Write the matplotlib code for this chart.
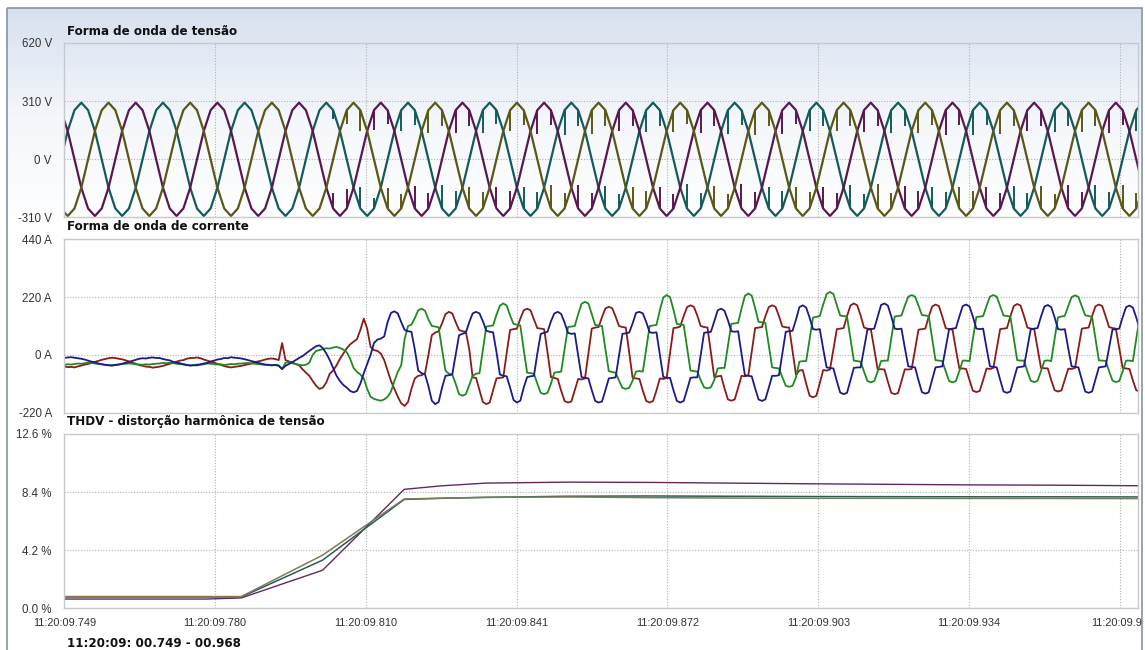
import numpy as np
import matplotlib.pyplot as plt
from matplotlib.colors import LinearSegmentedColormap
from matplotlib.patches import Rectangle

# ---------------- data ----------------
# time axis in ms after 11:20:09
time_ticks = [749.0, 779.83, 810.67, 841.5, 872.33, 903.17, 934.0, 964.83]
time_labels = ['11:20:09.749', '11:20:09.780', '11:20:09.810', '11:20:09.841',
               '11:20:09.872', '11:20:09.903', '11:20:09.934', '11:20:09.9']

volt_ticks = [620, 310, 0, -310]
volt_labels = ['620 V', '310 V', '0 V', '-310 V']
curr_ticks = [440, 220, 0, -220]
curr_labels = ['440 A', '220 A', '0 A', '-220 A']
thd_ticks = [12.6, 8.4, 4.2, 0.0]
thd_labels = ['12.6 %', '8.4 %', '4.2 %', '0.0 %']

# voltage samples (V), first sample at 748.3 ms, 12 samples per cycle
volt_t0 = 748.3
volt_step = 16.7 / 12
volt_teal = [
    0, 151, 262, 302, 262, 151, 0, -151, -262, -302, -262, -151,
    0, 151, 262, 302, 262, 151, 0, -151, -262, -302, -262, -151,
    0, 151, 262, 302, 262, 151, 0, -151, -262, -302, -262, -151,
    0, 151, 262, 302, 262, 151, 0, -151, -262, -302, -262, -151,
    0, 151, 262, 302, 262, 151, 0, -151, -262, -302, -262, -151,
    0, 151, 262, 302, 262, 151, 0, -151, -262, -302, -262, -151,
    0, 151, 262, 302, 262, 151, 0, -151, -262, -302, -262, -151,
    0, 151, 262, 302, 262, 151, 0, -151, -262, -302, -262, -151,
    0, 151, 262, 302, 262, 151, 0, -151, -262, -302, -262, -151,
    0, 151, 262, 302, 262, 151, 0, -151, -262, -302, -262, -151,
    0, 151, 262, 302, 262, 151, 0, -151, -262, -302, -262, -151,
    0, 151, 262, 302, 262, 151, 0, -151, -262, -302, -262, -151,
    0, 151, 262, 302, 262, 151, 0, -151, -262, -302, -262, -151,
    0, 151, 262, 302,
]
volt_purple = [
    262, 151, 0, -151, -262, -302, -262, -151, 0, 151, 262, 302,
    262, 151, 0, -151, -262, -302, -262, -151, 0, 151, 262, 302,
    262, 151, 0, -151, -262, -302, -262, -151, 0, 151, 262, 302,
    262, 151, 0, -151, -262, -302, -262, -151, 0, 151, 262, 302,
    262, 151, 0, -151, -262, -302, -262, -151, 0, 151, 262, 302,
    262, 151, 0, -151, -262, -302, -262, -151, 0, 151, 262, 302,
    262, 151, 0, -151, -262, -302, -262, -151, 0, 151, 262, 302,
    262, 151, 0, -151, -262, -302, -262, -151, 0, 151, 262, 302,
    262, 151, 0, -151, -262, -302, -262, -151, 0, 151, 262, 302,
    262, 151, 0, -151, -262, -302, -262, -151, 0, 151, 262, 302,
    262, 151, 0, -151, -262, -302, -262, -151, 0, 151, 262, 302,
    262, 151, 0, -151, -262, -302, -262, -151, 0, 151, 262, 302,
    262, 151, 0, -151, -262, -302, -262, -151, 0, 151, 262, 302,
    262, 151, 0, -151,
]
volt_olive = [
    -262, -302, -262, -151, 0, 151, 262, 302, 262, 151, 0, -151,
    -262, -302, -262, -151, 0, 151, 262, 302, 262, 151, 0, -151,
    -262, -302, -262, -151, 0, 151, 262, 302, 262, 151, 0, -151,
    -262, -302, -262, -151, 0, 151, 262, 302, 262, 151, 0, -151,
    -262, -302, -262, -151, 0, 151, 262, 302, 262, 151, 0, -151,
    -262, -302, -262, -151, 0, 151, 262, 302, 262, 151, 0, -151,
    -262, -302, -262, -151, 0, 151, 262, 302, 262, 151, 0, -151,
    -262, -302, -262, -151, 0, 151, 262, 302, 262, 151, 0, -151,
    -262, -302, -262, -151, 0, 151, 262, 302, 262, 151, 0, -151,
    -262, -302, -262, -151, 0, 151, 262, 302, 262, 151, 0, -151,
    -262, -302, -262, -151, 0, 151, 262, 302, 262, 151, 0, -151,
    -262, -302, -262, -151, 0, 151, 262, 302, 262, 151, 0, -151,
    -262, -302, -262, -151, 0, 151, 262, 302, 262, 151, 0, -151,
    -262, -302, -262, -151,
]

# commutation notches: (time ms, from V, to V)
notch_teal = [
    (803.97, 262, 215), (809.53, -262, -150), (812.32, -262, -205),
    (817.88, 262, 150), (820.67, 262, 185), (826.23, -262, -135), (829.02, -262, -170),
    (834.58, 262, 140), (837.37, 262, 190), (842.93, -262, -150), (845.72, -262, -175),
    (851.28, 262, 130), (854.07, 262, 180), (859.63, -262, -140), (862.42, -262, -185),
    (867.98, 262, 145), (870.77, 262, 175), (876.33, -262, -130), (879.12, -262, -180),
    (884.68, 262, 135), (887.47, 262, 185), (893.03, -262, -145), (895.82, -262, -170),
    (901.38, 262, 150), (904.17, 262, 180), (909.73, -262, -135), (912.52, -262, -185),
    (918.08, 262, 140), (920.87, 262, 175), (926.43, -262, -150), (929.22, -262, -175),
    (934.78, 262, 130), (937.57, 262, 185), (943.13, -262, -140), (945.92, -262, -180),
    (951.48, 262, 145), (954.27, 262, 180), (959.83, -262, -135), (962.62, -262, -175),
    (968.18, 262, 150),
]
notch_purple = [
    (803.96, -262, -180), (806.75, -262, -160),
    (812.31, 262, 155), (815.10, 262, 190), (820.66, -262, -140), (823.45, -262, -180),
    (829.01, 262, 140), (831.80, 262, 180), (837.36, -262, -150), (840.15, -262, -170),
    (845.71, 262, 135), (848.50, 262, 185), (854.06, -262, -135), (856.85, -262, -180),
    (862.41, 262, 150), (865.20, 262, 175), (870.76, -262, -145), (873.55, -262, -185),
    (879.11, 262, 140), (881.90, 262, 180), (887.46, -262, -130), (890.25, -262, -175),
    (895.81, 262, 135), (898.60, 262, 190), (904.16, -262, -150), (906.95, -262, -180),
    (912.51, 262, 145), (915.30, 262, 175), (920.86, -262, -140), (923.65, -262, -170),
    (929.21, 262, 130), (932.00, 262, 185), (937.56, -262, -145), (940.35, -262, -180),
    (945.91, 262, 150), (948.70, 262, 180), (954.26, -262, -135), (957.05, -262, -175),
    (962.61, 262, 140), (965.40, 262, 185),
]
notch_olive = [
    (806.75, 262, 190), (809.54, 262, 150), (815.10, -262, -155), (817.89, -262, -185),
    (823.45, 262, 140), (826.24, 262, 180), (831.80, -262, -145), (834.59, -262, -175),
    (840.15, 262, 150), (842.94, 262, 185), (848.50, -262, -135), (851.29, -262, -180),
    (856.85, 262, 135), (859.64, 262, 175), (865.20, -262, -150), (867.99, -262, -170),
    (873.55, 262, 145), (876.34, 262, 190), (881.90, -262, -140), (884.69, -262, -185),
    (890.25, 262, 130), (893.04, 262, 180), (898.60, -262, -145), (901.39, -262, -175),
    (906.95, 262, 150), (909.74, 262, 175), (915.30, -262, -130), (918.09, -262, -180),
    (923.65, 262, 140), (926.44, 262, 185), (932.00, -262, -150), (934.79, -262, -170),
    (940.35, 262, 135), (943.14, 262, 180), (948.70, -262, -140), (951.49, -262, -185),
    (957.05, 262, 145), (959.84, 262, 175), (965.40, -262, -135), (968.19, -262, -180),
]

# current samples (A), first sample at 749.0 ms, 24 samples per cycle
curr_t0 = 749.0
curr_step = 16.7 / 24
curr_red = [
    -44, -47, -46, -48, -44, -41, -37, -35, -30, -27, -23, -19, -16, -13, -11, -12, -15, -17, -21, -25, -30, -34, -39, -42,
    -45, -46, -49, -47, -45, -42, -38, -34, -31, -26, -22, -20, -15, -12, -12, -10, -13, -18, -22, -26, -29, -35, -38, -43,
    -46, -48, -46, -44, -42, -39, -36, -33, -28, -25, -22, -18, -15, -14, -16, -20, 45, -20, -25, -30, -35, -40, -55, -68,
    -80, -100, -118, -130, -125, -105, -72, -60, -40, -15, 5, 25, 40, 50, 60, 95, 138, 100, 30, 18, 15, 5, -20, -60,
    -100, -130, -160, -185, -195, -180, -130, -90, -80, -78, -70, 0, 75, 85, 90, 120, 155, 164, 158, 125, 95, 90, 88, 20,
    -86, -88, -135, -180, -188, -182, -135, -90, -88, -86, 8, 95, 98, 100, 138, 170, 176, 170, 135, 102, 100, 98, 8, -85,
    -88, -92, -137, -176, -182, -178, -135, -92, -94, -90, 6, 100, 104, 106, 144, 177, 183, 178, 146, 110, 106, 104, 8, -88,
    -90, -92, -137, -176, -182, -176, -136, -90, -92, -88, 8, 102, 104, 108, 148, 182, 189, 183, 150, 110, 106, 104, 8, -86,
    -82, -80, -128, -170, -175, -170, -126, -80, -82, -78, 12, 102, 104, 106, 147, 182, 189, 183, 148, 108, 105, 104, 14, -76,
    -60, -58, -110, -156, -162, -156, -108, -58, -60, -56, 21, 98, 100, 102, 148, 188, 196, 189, 150, 104, 100, 98, 22, -55,
    -55, -56, -102, -145, -150, -146, -100, -55, -56, -54, 22, 96, 98, 100, 145, 184, 192, 186, 146, 102, 98, 96, 20, -52,
    -52, -54, -97, -137, -142, -138, -96, -52, -54, -50, 24, 98, 100, 102, 147, 186, 194, 188, 148, 104, 100, 98, 24, -50,
    -51, -52, -96, -135, -140, -136, -95, -53, -54, -50, 25, 100, 102, 104, 147, 185, 192, 186, 147, 106, 102, 100, 25, -50,
    -52, -54, -98, -135, -140,
]
curr_blue = [
    -12, -10, -9, -11, -13, -15, -18, -22, -26, -29, -33, -36, -38, -40, -41, -39, -37, -34, -30, -27, -23, -19, -15, -13,
    -14, -11, -10, -12, -12, -16, -19, -21, -27, -30, -32, -37, -39, -41, -40, -40, -36, -33, -31, -26, -22, -18, -16, -12,
    -13, -9, -11, -12, -14, -17, -20, -24, -27, -31, -34, -37, -38, -40, -39, -42, -54, -42, -35, -28, -20, -12, -5, 5,
    15, 24, 33, 36, 25, 5, -20, -50, -80, -100, -115, -125, -138, -143, -138, -110, -70, -35, 0, 45, 58, 62, 70, 125,
    160, 166, 158, 125, 95, 90, 88, 20, -60, -70, -75, -120, -175, -188, -180, -125, -80, -78, -75, 0, 75, 80, 85, 125,
    158, 164, 158, 128, 92, 88, 86, 10, -75, -80, -82, -125, -172, -182, -175, -125, -85, -82, -80, 5, 80, 84, 88, 128,
    158, 164, 156, 123, 84, 80, 82, -3, -85, -88, -90, -135, -176, -182, -178, -135, -90, -88, -86, -2, 80, 82, 85, 120,
    160, 164, 158, 125, 86, 84, 86, 0, -84, -88, -88, -135, -176, -182, -176, -133, -88, -86, -86, 0, 84, 86, 88, 128,
    170, 176, 168, 132, 90, 88, 90, 4, -78, -80, -82, -128, -170, -176, -170, -126, -80, -80, -78, 6, 88, 90, 92, 134,
    182, 189, 180, 142, 98, 96, 98, 23, -48, -50, -52, -100, -144, -150, -145, -98, -50, -48, -48, 24, 96, 98, 100, 145,
    190, 196, 188, 147, 100, 98, 100, 26, -44, -46, -48, -97, -142, -148, -143, -96, -48, -46, -44, 26, 98, 100, 102, 146,
    186, 192, 184, 145, 100, 98, 100, 26, -44, -46, -48, -95, -140, -145, -140, -94, -48, -46, -44, 26, 98, 100, 102, 146,
    184, 190, 182, 143, 98, 96, 98, 25, -44, -46, -48, -95, -140, -145, -140, -94, -48, -46, -44, 25, 96, 98, 100, 144,
    182, 188, 180, 142, 98,
]
curr_green = [
    -38, -36, -37, -35, -33, -34, -32, -30, -31, -33, -35, -36, -38, -39, -40, -38, -37, -35, -34, -33, -34, -36, -37, -38,
    -36, -37, -35, -34, -33, -31, -32, -30, -32, -34, -36, -35, -38, -40, -39, -37, -38, -36, -33, -34, -35, -37, -36, -39,
    -37, -35, -36, -34, -33, -32, -31, -33, -34, -35, -37, -38, -39, -40, -38, -40, -55, -30, -28, -32, -35, -38, -40, -38,
    -30, 0, 15, 18, 22, 25, 24, 28, 30, 26, 20, 10, -15, -50, -65, -75, -90, -130, -160, -168, -172, -175, -170, -160,
    -140, -100, -65, -40, 60, 110, 115, 140, 170, 176, 168, 135, 110, 108, 105, 20, -60, -72, -75, -110, -150, -156, -150, -115,
    -80, -72, -70, 20, 108, 110, 112, 153, 188, 196, 188, 150, 118, 115, 112, 20, -68, -70, -72, -110, -145, -150, -145, -110,
    -68, -66, -64, 21, 106, 108, 110, 155, 195, 202, 196, 155, 114, 112, 110, 22, -62, -66, -68, -98, -126, -130, -126, -98,
    -64, -62, -64, 24, 110, 112, 114, 170, 219, 228, 220, 172, 118, 116, 114, 26, -60, -62, -64, -96, -124, -128, -124, -96,
    -52, -50, -50, 35, 118, 120, 122, 177, 225, 234, 226, 178, 126, 124, 122, 38, -48, -50, -52, -86, -118, -122, -118, -86,
    -26, -24, -24, 60, 142, 145, 148, 192, 232, 240, 232, 190, 150, 148, 146, 62, -22, -24, -26, -64, -100, -105, -100, -64,
    -24, -22, -22, 63, 146, 148, 150, 188, 222, 228, 222, 188, 152, 150, 148, 64, -20, -22, -24, -63, -100, -105, -100, -62,
    -22, -22, -24, 62, 144, 146, 148, 187, 222, 228, 222, 186, 150, 148, 146, 62, -20, -22, -22, -63, -99, -104, -99, -62,
    -23, -21, -24, 61, 143, 146, 149, 186, 220, 227, 221, 185, 151, 148, 145, 61, -21, -22, -23, -62, -98, -104, -100, -63,
    -22, -22, -24, 62, 144,
]

# THDV (%), one value per cycle
thd_time = [749.0, 768.5, 778.0, 785.2, 801.8, 818.5, 826.0, 835.2, 851.8, 868.5, 885.2, 901.8, 918.5, 935.2, 951.8, 968.6]
thd_purple = [0.67, 0.67, 0.67, 0.75, 2.75, 8.60, 8.85, 9.05, 9.12, 9.10, 9.05, 9.00, 8.96, 8.92, 8.90, 8.86]
thd_teal = [0.82, 0.82, 0.82, 0.82, 3.48, 7.87, 7.95, 8.02, 8.10, 8.12, 8.10, 8.08, 8.07, 8.06, 8.06, 8.05]
thd_olive = [0.85, 0.85, 0.85, 0.85, 3.84, 7.90, 7.96, 8.02, 8.05, 8.00, 7.97, 7.95, 7.95, 7.94, 7.94, 7.93]

# ---------------- drawing ----------------
W, H = 1145, 650
TEAL, PURPLE, OLIVE = '#155a5a', '#58184f', '#5b5717'
RED, BLUE, GREEN = '#8b1a1a', '#1a1a8a', '#1f8a1f'
TICK_FONT = dict(family='Liberation Sans', color='#333333')
TITLE_FONT = dict(family='DejaVu Sans', weight='bold', color='#111111', size=8.6)


def box(x0, y0, x1, y1):
    # pixel box (top-left origin) -> figure fraction
    return [x0 / W, 1 - y1 / H, (x1 - x0) / W, (y1 - y0) / H]


fig = plt.figure(figsize=(W / 100, H / 100), dpi=100)

bg = fig.add_axes([0, 0, 1, 1], zorder=-10)
bg.set_xlim(0, W)
bg.set_ylim(H, 0)
bg.axis('off')
grad_cmap = LinearSegmentedColormap.from_list('panel', ['#d7e0ef', '#f4f7fb', '#ffffff'])
bg.imshow(np.linspace(0, 1, 256).reshape(-1, 1), extent=[7, 1141, 228, 8],
          aspect='auto', cmap=grad_cmap, interpolation='bilinear')
bg.add_patch(Rectangle((7, 7.5), 1134.5, 700, fill=False, ec='#8593a3', lw=1.2))

ax_v = fig.add_axes(box(64.3, 43, 1138.3, 217.5))
ax_i = fig.add_axes(box(64.3, 239.5, 1138.3, 412.5))
ax_h = fig.add_axes(box(64.3, 434, 1138.3, 608.3))

setup = [
    (ax_v, (-310, 620), volt_ticks, volt_labels),
    (ax_i, (-220, 440), curr_ticks, curr_labels),
    (ax_h, (0, 12.6), thd_ticks, thd_labels),
]
for ax, ylim, yt, yl in setup:
    ax.set_facecolor('none')
    ax.set_xlim(749.0, 968.6)
    ax.set_ylim(*ylim)
    ax.set_xticks(time_ticks)
    ax.set_yticks(yt)
    ax.set_yticklabels(yl, fontsize=8.3, **TICK_FONT)
    ax.tick_params(length=0, pad=9)
    ax.grid(True, linestyle=(0, (1, 1.5)), color='#b2b2b2', lw=0.8)
    ax.set_axisbelow(True)
    for sp in ax.spines.values():
        sp.set_color('#c6cad0')
        sp.set_linewidth(1.0)

ax_v.set_xticklabels([])
ax_i.set_xticklabels([])
# the last label runs into the window edge in the original; keep it inside the figure
ax_h.set_xticklabels(time_labels[:-1] + [''], fontsize=7.9, **TICK_FONT)
ax_h.tick_params(axis='x', pad=7)
fig.text(1142 / W, 1 - 623 / H, time_labels[-1], ha='right', va='center', fontsize=7.9, **TICK_FONT)

# voltage
tv = volt_t0 + volt_step * np.arange(len(volt_teal))
for vals, notches, col in [(volt_teal, notch_teal, TEAL),
                           (volt_purple, notch_purple, PURPLE),
                           (volt_olive, notch_olive, OLIVE)]:
    ax_v.plot(tv, vals, color=col, lw=1.6)
    ax_v.vlines([n[0] for n in notches], [n[1] for n in notches], [n[2] for n in notches],
                color=col, lw=1.4)

# current
ti = curr_t0 + curr_step * np.arange(len(curr_red))
ax_i.plot(ti, curr_red, color=RED, lw=1.3)
ax_i.plot(ti, curr_green, color=GREEN, lw=1.3)
ax_i.plot(ti, curr_blue, color=BLUE, lw=1.3)

# THDV
ax_h.plot(thd_time, thd_purple, color='#62285f', lw=1.0)
ax_h.plot(thd_time, thd_teal, color='#2a5c58', lw=1.1)
ax_h.plot(thd_time, thd_olive, color='#7d7c55', lw=1.1)

fig.text(67 / W, 1 - 31.5 / H, 'Forma de onda de tensão', va='center', **TITLE_FONT)
fig.text(67 / W, 1 - 227 / H, 'Forma de onda de corrente', va='center', **TITLE_FONT)
fig.text(67 / W, 1 - 422 / H, 'THDV - distorção harmônica de tensão', va='center', **TITLE_FONT)
fig.text(67 / W, 1 - 643.5 / H, '11:20:09: 00.749 - 00.968', va='center', **TITLE_FONT)

fig.savefig('out.png', dpi=100)
